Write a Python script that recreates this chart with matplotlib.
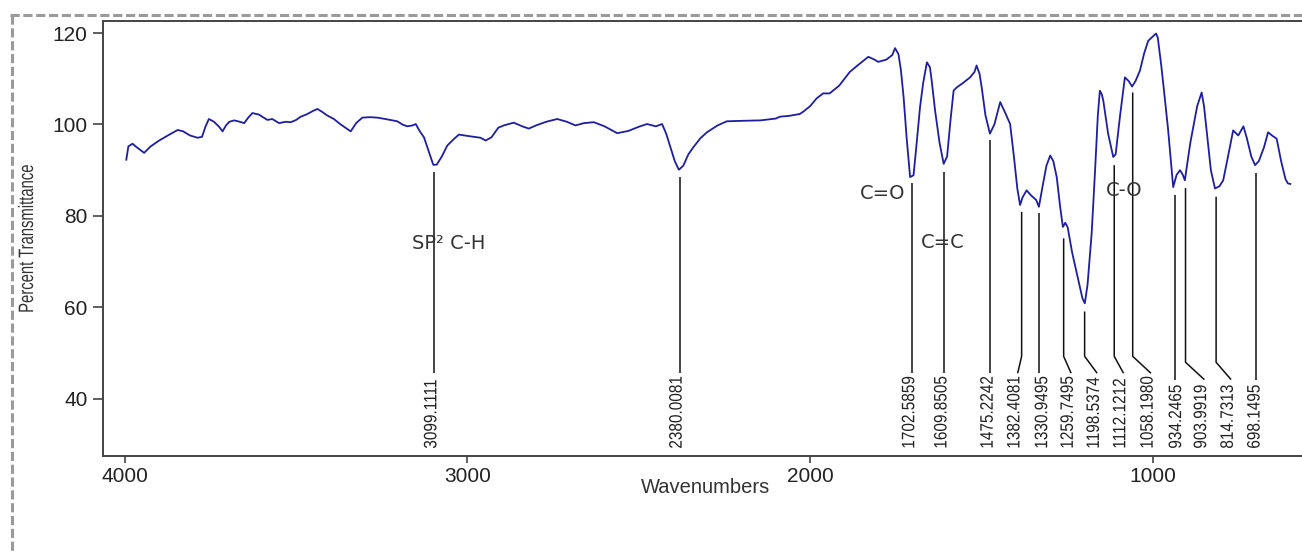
import matplotlib
matplotlib.use("Agg")
import matplotlib.pyplot as plt
from matplotlib import font_manager
from matplotlib.lines import Line2D
from matplotlib.patheffects import AbstractPathEffect
from matplotlib.transforms import Affine2D

# ---------------- data ----------------
wavenumber = [3996, 3990, 3978, 3965, 3944, 3925, 3900, 3870, 3846, 3830, 3810, 3788, 3775, 3765,
              3755, 3740, 3725, 3715, 3705, 3695, 3681, 3665, 3652, 3640, 3628, 3610, 3595, 3584,
              3570, 3550, 3530, 3516, 3500, 3487, 3470, 3450, 3438, 3425, 3410, 3390, 3370, 3341,
              3325, 3307, 3285, 3263, 3240, 3205, 3190, 3176, 3160, 3151, 3140, 3127, 3115, 3100,
              3090, 3075, 3059, 3040, 3025, 3000, 2962, 2947, 2930, 2910, 2894, 2865, 2840, 2821,
              2800, 2770, 2738, 2710, 2685, 2660, 2631, 2600, 2563, 2530, 2500, 2476, 2450, 2432,
              2420, 2408, 2395, 2383, 2370, 2355, 2340, 2320, 2301, 2270, 2243, 2200, 2145, 2100,
              2088, 2060, 2030, 2020, 2000, 1981, 1962, 1943, 1915, 1884, 1860, 1830, 1815, 1801,
              1777, 1760, 1752, 1742, 1735, 1727, 1718, 1708, 1698, 1690, 1679, 1670, 1659, 1650,
              1645, 1635, 1622, 1610, 1600, 1590, 1581, 1572, 1555, 1533, 1520, 1514, 1505, 1499,
              1488, 1475, 1462, 1445, 1430, 1416, 1405, 1395, 1387, 1380, 1368, 1355, 1340, 1332,
              1320, 1310, 1299, 1290, 1280, 1270, 1262, 1255, 1248, 1235, 1220, 1205, 1198, 1190,
              1178, 1168, 1160, 1154, 1148, 1144, 1130, 1115, 1108, 1095, 1081, 1070, 1060, 1050,
              1037, 1025, 1013, 1000, 990, 985, 975, 969, 955, 940, 930, 920, 912, 906, 890, 870,
              857, 850, 840, 830, 818, 805, 794, 780, 765, 750, 735, 725, 712, 701, 690, 675, 663,
              650, 638, 625, 612, 605, 598]
transmittance = [92.3, 95.2, 95.8, 95.0, 93.8, 95.2, 96.5, 97.8, 98.8, 98.5, 97.6, 97.1, 97.3, 99.5,
                 101.2, 100.6, 99.5, 98.5, 99.8, 100.6, 100.9, 100.6, 100.3, 101.5, 102.5, 102.2, 101.5, 101.0,
                 101.2, 100.3, 100.6, 100.5, 101.0, 101.7, 102.2, 103.0, 103.4, 102.8, 102.0, 101.2, 100.0, 98.5,
                 100.3, 101.5, 101.6, 101.5, 101.2, 100.7, 100.0, 99.6, 99.8, 100.1, 98.6, 97.2, 94.5, 91.2,
                 91.2, 93.0, 95.4, 96.8, 97.8, 97.5, 97.1, 96.5, 97.2, 99.3, 99.8, 100.4, 99.6, 99.1,
                 99.8, 100.6, 101.2, 100.6, 99.8, 100.3, 100.5, 99.6, 98.1, 98.6, 99.5, 100.1, 99.6, 100.1,
                 98.0, 95.1, 92.0, 90.1, 91.0, 93.5, 95.1, 97.0, 98.3, 99.8, 100.7, 100.8, 100.9, 101.3,
                 101.7, 101.9, 102.3, 102.8, 104.0, 105.7, 106.8, 106.8, 108.5, 111.5, 113.0, 114.8, 114.3, 113.7,
                 114.2, 115.2, 116.7, 115.4, 112.0, 106.0, 97.0, 88.5, 88.9, 95.0, 103.8, 109.0, 113.6, 112.5,
                 109.6, 103.0, 96.0, 91.4, 93.0, 101.0, 107.4, 108.1, 109.0, 110.3, 111.5, 112.9, 111.0, 108.1,
                 102.0, 98.0, 100.0, 104.9, 102.5, 100.1, 93.0, 86.0, 82.4, 84.0, 85.6, 84.5, 83.5, 82.0,
                 87.0, 91.0, 93.2, 92.0, 88.5, 82.0, 77.6, 78.5, 77.5, 72.0, 67.0, 62.0, 60.9, 65.0,
                 76.2, 90.0, 102.0, 107.4, 106.5, 105.2, 98.0, 92.9, 93.5, 102.0, 110.3, 109.5, 108.3, 109.5,
                 111.8, 115.5, 118.3, 119.2, 119.9, 119.0, 113.0, 108.9, 99.0, 86.3, 89.0, 90.0, 89.0, 87.8, 96.0, 104.0,
                 107.0, 104.0, 97.0, 90.0, 86.0, 86.5, 87.8, 93.0, 98.7, 97.6, 99.6, 97.0, 93.0, 91.1, 92.0, 95.0, 98.3,
                 97.5, 96.9, 92.0, 88.0, 87.1, 87.0]

peak_wn = [3099.1111, 2380.0081, 1702.5859, 1609.8505, 1475.2242, 1382.4081, 1330.9495,
           1259.7495, 1198.5374, 1112.1212, 1058.1980, 934.2465, 903.9919, 814.7313, 698.1495]
peak_line_top = [89.7, 88.6, 87.1, 89.7, 96.6, 80.9, 80.6, 75.1, 59.1, 91.1, 107.0,
                 84.6, 86.1, 84.2, 89.3]

group_labels = ["SP\u00b2 C-H", "C=O", "C=C", "C-O"]
group_wn = [3055, 1787, 1612, 1082]
group_t = [73.9, 85.0, 74.2, 85.5]

x_ticks = [4000, 3000, 2000, 1000]
y_ticks = [40, 60, 80, 100, 120]

# ---------------- layout ----------------
label_x = [3104, 2388, 1709, 1615, 1480, 1402, 1321, 1246, 1170, 1093, 1013, 930, 857, 779, 701]

names = {f.name for f in font_manager.fontManager.ttflist}
regular = "Liberation Sans" if "Liberation Sans" in names else "DejaVu Sans"


class Squeeze(AbstractPathEffect):
    """Scale the drawn glyph outlines about an anchor point (display coords)."""

    def __init__(self, sx, sy, anchor_fn):
        super().__init__()
        self.sx, self.sy, self.anchor_fn = sx, sy, anchor_fn

    def draw_path(self, renderer, gc, tpath, affine, rgbFace=None):
        cx, cy = self.anchor_fn()
        aff = affine + Affine2D().translate(-cx, -cy).scale(self.sx, self.sy).translate(cx, cy)
        renderer.draw_path(gc, tpath, aff, rgbFace)


W, H = 1302, 553
fig = plt.figure(figsize=(W / 100, H / 100), dpi=100)
fig.patch.set_facecolor("white")
ax = fig.add_axes([103 / W, 1 - 456 / H, (W - 103) / W, (456 - 20.7) / H])

ax.plot(wavenumber, transmittance, color="#1e1ea0", lw=1.3)
ax.set_xlim(4064, 564)
ax.set_ylim(27.5, 122.7)

ax.set_xticks(x_ticks)
ax.set_yticks(y_ticks)
for lab in ax.get_xticklabels() + ax.get_yticklabels():
    lab.set_fontfamily(regular)
    lab.set_fontsize(15)
ax.tick_params(axis="x", length=5, width=1.2, pad=3, colors="#444444", labelcolor="#222222")
ax.tick_params(axis="y", length=7, width=1.2, pad=4, colors="#444444", labelcolor="#222222")

for s in ["left", "bottom", "top"]:
    ax.spines[s].set_linewidth(1.4)
    ax.spines[s].set_color("#444444")
ax.spines["right"].set_visible(False)

ax.set_xlabel("Wavenumbers", fontsize=14.5, family=regular, color="#333333", va="top")
ax.xaxis.set_label_coords((705.5 - 103) / (W - 103), -(478 - 456) / (456 - 20.7))

ylab_x = (37 - 103) / (W - 103)
ylab = ax.set_ylabel("Percent Transmittance", color="#333333", fontsize=15, family=regular)
ax.yaxis.set_label_coords(ylab_x, 0.5)

# peak marker lines + labels
label_bottom = 29.1
peak_texts = []
for p, top, lx in zip(peak_wn, peak_line_top, label_x):
    txt = f"{p:.4f}"
    long_lab = len(txt) >= 9
    end_v = 45.6 if long_lab else 44.2
    bend_v = 49.3 if long_lab else 48.0
    if abs(lx - p) < 12:
        xs, ys = [p, p], [top, end_v]
    else:
        xs, ys = [p, p, lx - 8], [top, bend_v, end_v]
    ax.plot(xs, ys, color="#111111", lw=1.1, solid_capstyle="butt")
    t = ax.text(lx, label_bottom, txt, rotation=90, ha="center", va="bottom",
                color="#222222", fontsize=13, family=regular)
    peak_texts.append((t, lx))

for g, gx, gy in zip(group_labels, group_wn, group_t):
    ax.text(gx, gy, g, ha="center", va="center", fontsize=14, color="#333333",
            family="DejaVu Sans")

# condense the rotated texts along their length to the lengths seen in the reference
fig.canvas.draw()
renderer = fig.canvas.get_renderer()

ref9 = [t for t, _ in peak_texts if len(t.get_text()) >= 9][0]
len9 = ref9.get_window_extent(renderer).height
factor = 69.0 / len9 if len9 > 0 else 1.0
for t, lx in peak_texts:
    t.set_path_effects([Squeeze(1.0, factor,
                                (lambda lx=lx: ax.transData.transform((lx, label_bottom))))])

ylen = ylab.get_window_extent(renderer).height
yfac = 149.0 / ylen if ylen > 0 else 1.0
ylab.set_path_effects([Squeeze(1.0, yfac,
                               (lambda: ax.transAxes.transform((ylab_x, 0.5))))])

# dashed outer frame
fig.add_artist(Line2D([10 / W, 1], [1 - 15 / H, 1 - 15 / H], transform=fig.transFigure,
                      color="#9a9a9a", lw=2.2, linestyle=(0, (3, 1.2))))
fig.add_artist(Line2D([12 / W, 12 / W], [1 - 15 / H, 0], transform=fig.transFigure,
                      color="#9a9a9a", lw=2.2, linestyle=(0, (3, 1.2))))

fig.savefig("out.png", dpi=100, facecolor="white")
